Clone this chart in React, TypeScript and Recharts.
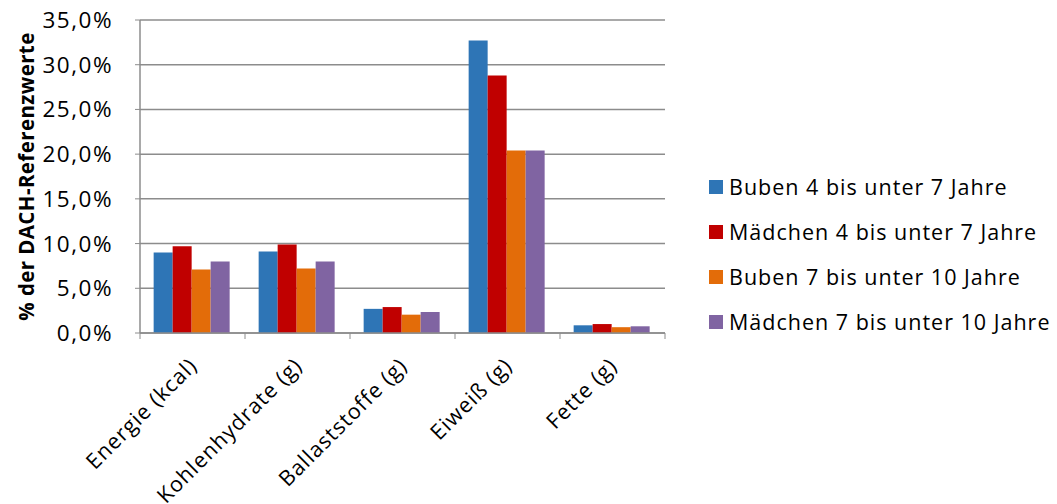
import React from 'react';
import { BarChart, Bar, XAxis, YAxis, CartesianGrid } from 'recharts';

const categories = ['Energie (kcal)', 'Kohlenhydrate (g)', 'Ballaststoffe (g)', 'Eiweiß (g)', 'Fette (g)'];
const bubenJung = [9.0, 9.1, 2.7, 32.7, 0.86];
const maedchenJung = [9.7, 9.9, 2.9, 28.8, 1.0];
const bubenAlt = [7.1, 7.2, 2.05, 20.4, 0.65];
const maedchenAlt = [8.0, 8.0, 2.35, 20.4, 0.75];
const yTicks = [0, 5, 10, 15, 20, 25, 30, 35];

const series = [
  { key: 'bj', name: 'Buben 4 bis unter 7 Jahre', color: '#2E75B6' },
  { key: 'mj', name: 'Mädchen 4 bis unter 7 Jahre', color: '#C00000' },
  { key: 'ba', name: 'Buben 7 bis unter 10 Jahre', color: '#E36C09' },
  { key: 'ma', name: 'Mädchen 7 bis unter 10 Jahre', color: '#8064A2' },
];

const data = categories.map((name, i) => ({
  name,
  bj: bubenJung[i],
  mj: maedchenJung[i],
  ba: bubenAlt[i],
  ma: maedchenAlt[i],
}));

const FONT = '"Open Sans", Lato, sans-serif';
const GRID = '#8c8c8c';

const XTick = (props: any) => {
  const { x, y, payload, index } = props;
  const half = 52.5;
  const ax = x + 6;
  const ay = y + 26;
  return (
    <g>
      <line x1={x - half} y1={y - 8} x2={x - half} y2={y - 2} stroke={GRID} />
      {index === categories.length - 1 && (
        <line x1={x + half} y1={y - 8} x2={x + half} y2={y - 2} stroke={GRID} />
      )}
      <text
        x={ax}
        y={ay}
        transform={`rotate(-45 ${ax} ${ay})`}
        textAnchor="end"
        fontSize={21.5}
        letterSpacing={1}
        fontFamily={FONT}
        fill="#000"
      >
        {payload.value}
      </text>
    </g>
  );
};

const LegendBox = () => (
  <div
    style={{
      position: 'absolute',
      left: 709,
      top: 164,
      fontFamily: FONT,
      fontSize: 21.5,
      letterSpacing: 1,
      color: '#000',
    }}
  >
    {series.map((s) => (
      <div key={s.key} style={{ display: 'flex', alignItems: 'center', height: 45, whiteSpace: 'nowrap' }}>
        <span style={{ width: 14, height: 14, background: s.color, display: 'inline-block', marginRight: 6 }} />
        <span>{s.name}</span>
      </div>
    ))}
  </div>
);

export default function App() {
  return (
    <div style={{ position: 'absolute', left: 0, top: 0, width: 1057, height: 504, background: '#fff' }}>
      <BarChart
        width={1057}
        height={504}
        data={data}
        margin={{ top: 20, right: 392, left: 0, bottom: 0 }}
        barCategoryGap="13%"
        barGap={0}
      >
        <CartesianGrid vertical={false} stroke={GRID} strokeWidth={1.5} />
        <XAxis
          dataKey="name"
          height={171}
          interval={0}
          tick={<XTick />}
          tickLine={false}
          axisLine={{ stroke: GRID, strokeWidth: 1.5 }}
        />
        <YAxis
          width={140}
          domain={[0, 35]}
          ticks={yTicks}
          interval={0}
          tickFormatter={(v: number) => v.toFixed(1).replace('.', ',') + '%'}
          tick={{ fontSize: 22.5, letterSpacing: 1.5, fontFamily: FONT, fill: '#000' }}
          tickLine={{ stroke: GRID }}
          tickSize={5}
          tickMargin={22}
          axisLine={{ stroke: GRID, strokeWidth: 1.5 }}
          label={{
            value: '% der DACH-Referenzwerte',
            angle: -90,
            position: 'insideLeft',
            dx: 22,
            dy: 0,
            style: { fontSize: 20.5, letterSpacing: 0.4, fontWeight: 700, fontFamily: FONT, fill: '#000', textAnchor: 'middle' },
          }}
        />
        {series.map((s) => (
          <Bar key={s.key} dataKey={s.key} name={s.name} fill={s.color} isAnimationActive={false} />
        ))}
      </BarChart>
      <LegendBox />
    </div>
  );
}
